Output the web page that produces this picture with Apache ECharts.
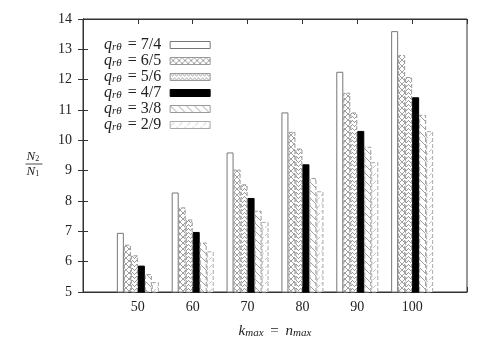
<!DOCTYPE html>
<html>
<head>
<meta charset="utf-8">
<script src="https://cdn.jsdelivr.net/npm/echarts@6/dist/echarts.min.js"></script>
<style>
  html, body { margin: 0; padding: 0; background: #fff; }
  #main { width: 491px; height: 344px; }
</style>
</head>
<body>
<div id="main"></div>
<script>
  // data
  var kmax = ['50', '60', '70', '80', '90', '100'];
  var ratios = ['7/4', '6/5', '5/6', '4/7', '3/8', '2/9'];
  var r74 = [6.95, 8.28, 9.60, 10.92, 12.26, 13.60];
  var r65 = [6.56, 7.79, 9.04, 10.28, 11.57, 12.81];
  var r56 = [6.21, 7.39, 8.55, 9.73, 10.92, 12.09];
  var r47 = [5.87, 6.98, 8.10, 9.21, 10.31, 11.42];
  var r38 = [5.59, 6.63, 7.68, 8.76, 9.79, 10.84];
  var r29 = [5.33, 6.34, 7.31, 8.32, 9.28, 10.30];
  var yTicks = [5, 14, 1];

  var FONT = 'Liberation Serif';

  // fill patterns
  function pat(size, draw) {
    var c = document.createElement('canvas');
    c.width = size; c.height = size;
    var ctx = c.getContext('2d');
    ctx.fillStyle = '#fff';
    ctx.fillRect(0, 0, size, size);
    draw(ctx);
    return { image: c, repeat: 'repeat' };
  }
  var cross = pat(6, function (ctx) {
    ctx.strokeStyle = '#888'; ctx.lineWidth = 0.8;
    ctx.beginPath();
    ctx.moveTo(0, 0); ctx.lineTo(6, 6);
    ctx.moveTo(6, 0); ctx.lineTo(0, 6);
    ctx.stroke();
  });
  var dots = pat(4, function (ctx) {
    ctx.fillStyle = '#999';
    ctx.fillRect(0, 0, 1, 1); ctx.fillRect(2, 2, 1, 1);
    ctx.fillRect(1, 1, 1, 1); ctx.fillRect(3, 1, 1, 1);
  });
  var hatch = pat(8, function (ctx) {
    ctx.strokeStyle = '#888'; ctx.lineWidth = 0.8;
    ctx.beginPath();
    ctx.moveTo(-1, -1); ctx.lineTo(9, 9);
    ctx.stroke();
  });
  var sparse = pat(8, function (ctx) {
    ctx.strokeStyle = '#bbb'; ctx.lineWidth = 0.8;
    ctx.beginPath();
    ctx.moveTo(1, 4); ctx.lineTo(4, 1);
    ctx.moveTo(5, 8); ctx.lineTo(8, 5);
    ctx.stroke();
  });

  var styles = [
    { color: '#fff', borderColor: '#777', borderWidth: 1 },
    { color: cross, borderColor: '#999', borderWidth: 1, borderType: 'dashed' },
    { color: dots, borderColor: '#999', borderWidth: 1, borderType: 'dashed' },
    { color: '#000', borderColor: '#000', borderWidth: 1 },
    { color: hatch, borderColor: '#999', borderWidth: 1, borderType: 'dashed' },
    { color: sparse, borderColor: '#aaa', borderWidth: 1, borderType: 'dashed' }
  ];
  var values = [r74, r65, r56, r47, r38, r29];

  var series = ratios.map(function (r, i) {
    return {
      name: r,
      type: 'bar',
      barWidth: 7,
      barGap: '0%',
      itemStyle: styles[i],
      data: values[i].map(function (v, j) { return [j + 1, v]; })
    };
  });

  var chart = echarts.init(document.getElementById('main'));
  chart.setOption({
    animation: false,
    backgroundColor: '#fff',
    grid: { left: 83, right: 24, top: 19, bottom: 49, show: true, borderColor: '#333', borderWidth: 1 },
    legend: {
      orient: 'vertical',
      left: 99,
      top: 32,
      align: 'right',
      icon: 'rect',
      itemWidth: 40,
      itemHeight: 7,
      itemGap: 0,
      itemStyle: { borderWidth: 1 },
      data: ratios,
      formatter: function (r) { return '{q|q}{s|rθ}{t| = ' + r + '}'; },
      textStyle: {
        fontFamily: FONT, fontSize: 15, color: '#222', lineHeight: 15,
        rich: {
          q: { fontFamily: FONT, fontSize: 16, fontStyle: 'italic', color: '#222' },
          s: { fontFamily: FONT, fontSize: 11, fontStyle: 'italic', color: '#222', padding: [5, 0, 0, 0] },
          t: { fontFamily: FONT, fontSize: 16, color: '#222', padding: [0, 4, 0, 2] }
        }
      }
    },
    xAxis: [{
      type: 'value',
      min: 0, max: 7, interval: 1,
      position: 'bottom',
      splitLine: { show: false },
      axisLine: { lineStyle: { color: '#333' } },
      axisTick: { inside: true, length: 5, lineStyle: { color: '#333' } },
      axisLabel: {
        margin: 8, fontFamily: FONT, fontSize: 14, color: '#222',
        formatter: function (v) { return kmax[v - 1] || ''; }
      },
      name: '{i|k}{s|max}{t| = }{i|n}{s|max}',
      nameLocation: 'middle',
      nameGap: 31,
      nameTextStyle: {
        rich: {
          i: { fontFamily: FONT, fontSize: 15, fontStyle: 'italic', color: '#222' },
          s: { fontFamily: FONT, fontSize: 11, fontStyle: 'italic', color: '#222', padding: [5, 0, 0, 0] },
          t: { fontFamily: FONT, fontSize: 15, color: '#222', padding: [0, 3, 0, 3] }
        }
      }
    }, {
      type: 'value',
      min: 0, max: 7, interval: 1,
      position: 'top',
      splitLine: { show: false },
      axisLine: { lineStyle: { color: '#333' } },
      axisTick: { inside: true, length: 5, lineStyle: { color: '#333' } },
      axisLabel: { show: false }
    }],
    yAxis: [{
      type: 'value',
      min: yTicks[0], max: yTicks[1], interval: yTicks[2],
      position: 'left',
      splitLine: { show: false },
      axisLine: { show: true, lineStyle: { color: '#333' } },
      axisTick: { inside: true, length: 5, lineStyle: { color: '#333' } },
      axisLabel: { margin: 11, fontFamily: FONT, fontSize: 14, color: '#222' }
    }, {
      type: 'value',
      min: yTicks[0], max: yTicks[1], interval: yTicks[2],
      position: 'right',
      splitLine: { show: false },
      axisLine: { show: true, lineStyle: { color: '#333' } },
      axisTick: { inside: true, length: 5, lineStyle: { color: '#333' } },
      axisLabel: { show: false }
    }],
    graphic: [{
      type: 'group',
      left: 23,
      top: 150,
      children: [
        { type: 'text', x: 1, y: 0, style: { text: '{n|N}{s|2}', rich: {
          n: { fontFamily: FONT, fontSize: 13, fontStyle: 'italic', fill: '#222' },
          s: { fontFamily: FONT, fontSize: 8, fill: '#222', padding: [5, 0, 0, 0] } } } },
        { type: 'line', shape: { x1: 0, y1: 14, x2: 17, y2: 14 }, style: { stroke: '#222', lineWidth: 0.8 } },
        { type: 'text', x: 1, y: 15, style: { text: '{n|N}{s|1}', rich: {
          n: { fontFamily: FONT, fontSize: 13, fontStyle: 'italic', fill: '#222' },
          s: { fontFamily: FONT, fontSize: 8, fill: '#222', padding: [5, 0, 0, 0] } } } }
      ]
    }],
    series: series
  });
</script>
</body>
</html>
